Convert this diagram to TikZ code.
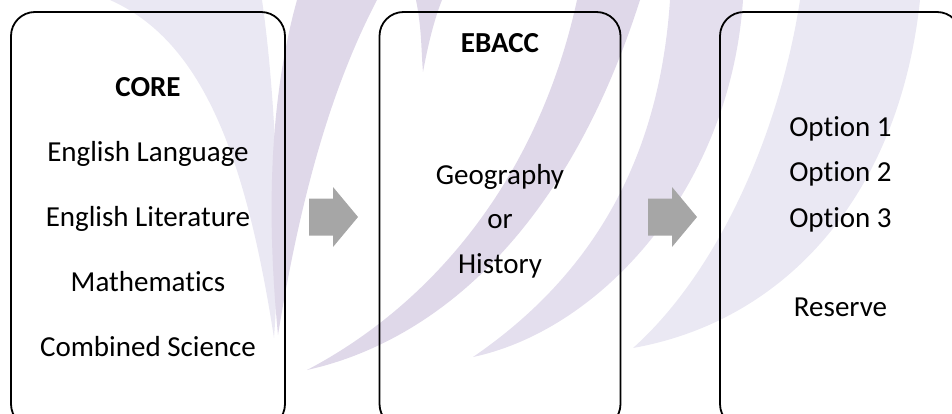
\documentclass[tikz,border=0pt]{standalone}
\usepackage{fontspec}
\setmainfont{Carlito}[Ligatures=NoCommon]
\definecolor{swooshdark}{RGB}{223,216,233}
\definecolor{swooshmid}{RGB}{228,223,238}
\definecolor{swooshlight}{RGB}{234,232,243}
\definecolor{arrowgrey}{RGB}{166,166,166}
\newcommand{\boxText}[0]{\fontsize{29}{35}\selectfont}
\newcommand{\greyArrow}[1]{\fill[arrowgrey] (#1) ++(0,-18.5) -- ++(24,0) -- ++(0,-11.5) -- ++(25,30) -- ++(-25,30) -- ++(0,-11.5) -- ++(-24,0) -- cycle;}

\begin{document}
\begin{tikzpicture}[x=1pt, y=-1pt]
  \tikzset{subjbox/.style={draw, line width=1.8pt, rounded corners=24pt, minimum height=416pt, inner sep=0pt},
    subj/.style={anchor=base, inner sep=0pt, font=\boxText},
    subjhead/.style={subj, font=\boxText\bfseries}}
  \useasboundingbox (0,0) rectangle (952,414);
  \clip (0,0) rectangle (952,414);
  % watermark swooshes
  \fill[swooshlight] (110,0) .. controls (200,40) and (245,150) .. (274,338) .. controls (282,230) and (275,90) .. (262,0) -- cycle;
  \fill[swooshdark] (297,0) .. controls (272,90) and (265,200) .. (278,335) .. controls (300,200) and (330,90) .. (377,0) -- cycle;
  \fill[swooshdark] (416,0) .. controls (422,30) and (421,50) .. (423,72) .. controls (428,45) and (434,20) .. (442,0) -- cycle;
  \fill[swooshdark] (307,370) .. controls (420,345) and (560,250) .. (640,0) -- (577,0) .. controls (540,170) and (440,300) .. (307,370) -- cycle;
  \fill[swooshmid] (473,357) .. controls (600,330) and (730,190) .. (743,0) -- (670,0) .. controls (660,150) and (600,270) .. (473,357) -- cycle;
  \fill[swooshlight] (633,348) .. controls (790,320) and (900,190) .. (920,0) -- (800,0) .. controls (780,130) and (720,270) .. (633,348) -- cycle;
  % boxes
  \node[subjbox, minimum width=274pt] (core) at (148,220) {};
  \node[subjbox, minimum width=241pt] (ebacc) at (500,220) {};
  \node[subjbox, minimum width=241pt] (options) at (840.5,220) {};
  \node[subjhead] (coreTitle) at (148,97) {CORE};
  \node[subj] (coreLang) at (148,161) {English Language};
  \node[subj] (coreLit) at (148,226) {English Literature};
  \node[subj] (coreMaths) at (148,291) {Mathematics};
  \node[subj] (coreSci) at (148,356) {Combined Science};
  \node[subjhead] (ebaccTitle) at (500,53) {EBACC};
  \node[subj] (ebaccGeo) at (500,185) {Geography};
  \node[subj] (ebaccOr) at (500,228) {or};
  \node[subj] (ebaccHist) at (500,273) {History};
  \node[subj] (optionA) at (840.5,137) {Option 1};
  \node[subj] (optionB) at (840.5,182) {Option 2};
  \node[subj] (optionC) at (840.5,227) {Option 3};
  \node[subj] (optionReserve) at (840.5,316) {Reserve};
  % arrows
  \greyArrow{309,217}
  \greyArrow{648,217}
\end{tikzpicture}
\end{document}
